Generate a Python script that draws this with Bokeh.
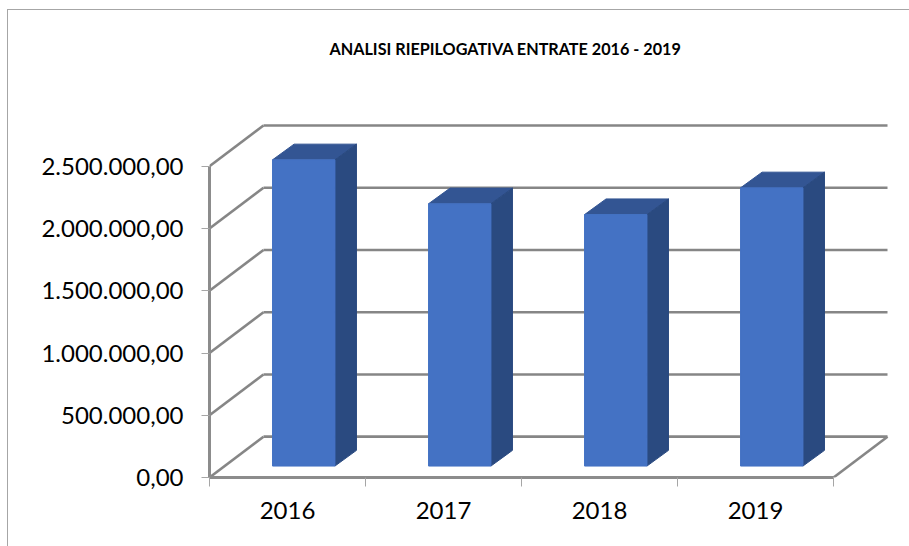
from bokeh.plotting import figure
from bokeh.embed import file_html
from bokeh.resources import INLINE
from bokeh.models import Range1d, FixedTicker, Title

title = "ANALISI RIEPILOGATIVA ENTRATE 2016 - 2019"
categories = ["2016", "2017", "2018", "2019"]
values = [2460000, 2107000, 2020000, 2235000]
y_ticks = [0, 500000, 1000000, 1500000, 2000000, 2500000]
y_labels = ["0,00", "500.000,00", "1.000.000,00", "1.500.000,00", "2.000.000,00", "2.500.000,00"]

GRID = "#868686"
FRONT, TOP, SIDE = "#4472C4", "#335593", "#2A4A80"
FONT = "Lato"

# pseudo-3D offsets, in axis units
WALL_DX, WALL_DY = 0.346, 328000
BAR_W, BAR_DX, BAR_DY = 0.4, 0.138, 126000
BASE_X, BASE_Y = 0.404, 92000

p = figure(width=902, height=537, output_backend="svg", toolbar_location=None,
           x_range=Range1d(0, 4.378), y_range=Range1d(0, 2860000),
           min_border_left=201, min_border_right=18, min_border_top=110, min_border_bottom=70,
           background_fill_color="white", border_fill_color="white",
           margin=(9, 0, 0, 7))
p.styles = {"border-left": "1.5px solid #a6a6a6", "border-top": "1.5px solid #a6a6a6"}
p.outline_line_color = None
p.grid.visible = False

p.title.text = title
p.title.text_font = FONT
p.title.text_font_style = "bold"
p.title.text_font_size = "16.2px"
p.title.text_color = "#000000"
p.title.align = "left"
p.title.offset = 120
p.title.standoff = 53
p.add_layout(Title(text=" ", text_font_size="16px", standoff=18), "above")

# walls
for v in y_ticks:
    p.line([0, WALL_DX], [v, v + WALL_DY], line_color=GRID, line_width=2.6)
    p.line([WALL_DX, 4 + WALL_DX], [v + WALL_DY, v + WALL_DY], line_color=GRID, line_width=2.6)
p.line([4, 4 + WALL_DX], [0, WALL_DY], line_color=GRID, line_width=2.6)

# bars
for i, v in enumerate(values):
    l = i + BASE_X
    r = l + BAR_W
    t = BASE_Y + v
    p.patch([l, r, r + BAR_DX, l + BAR_DX], [t, t, t + BAR_DY, t + BAR_DY], fill_color=TOP, line_color=TOP)
    p.patch([r, r + BAR_DX, r + BAR_DX, r], [BASE_Y, BASE_Y + BAR_DY, t + BAR_DY, t], fill_color=SIDE, line_color=SIDE)
    p.patch([l, r, r, l], [BASE_Y, BASE_Y, t, t], fill_color=FRONT, line_color=FRONT)

# axes
xa = p.xaxis[0]
xa.ticker = FixedTicker(ticks=[i + 0.5 for i in range(4)], minor_ticks=[0, 1, 2, 3, 4])
xa.major_label_overrides = {i + 0.5: c for i, c in enumerate(categories)}
xa.bounds = (0, 4)
xa.major_tick_out = 0
xa.major_tick_in = 0
xa.minor_tick_out = 9
xa.minor_tick_in = 0
xa.minor_tick_line_color = "#a6a6a6"
xa.major_label_standoff = 15
ya = p.yaxis[0]
ya.ticker = FixedTicker(ticks=y_ticks)
ya.major_label_overrides = {t: s for t, s in zip(y_ticks, y_labels)}
ya.bounds = (0, 2500000)
ya.major_tick_out = 8
ya.major_tick_in = 0
ya.major_tick_line_color = "#a6a6a6"
ya.minor_tick_line_color = None
ya.major_label_standoff = 18
for a in (xa, ya):
    a.axis_line_color = "#8c8c8c"
    a.axis_line_width = 3
    a.major_label_text_font = FONT
    a.major_label_text_font_size = "24px"
    a.major_label_text_color = "#000000"

open("out.html", "w").write(file_html(p, INLINE))
